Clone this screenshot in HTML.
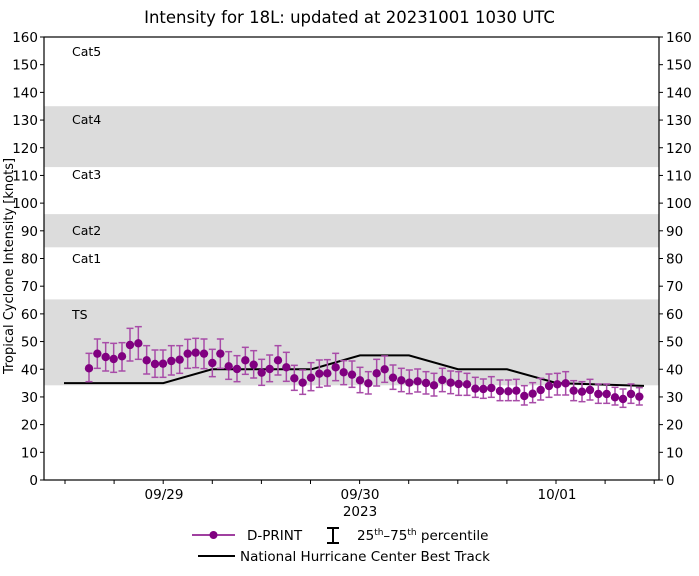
<!DOCTYPE html>
<html><head><meta charset="utf-8"><style>
body{margin:0;background:#fff}
svg text{font-family:"DejaVu Sans","Liberation Sans",sans-serif;fill:#000}
</style></head><body>
<svg id="s" width="699" height="571" xmlns="http://www.w3.org/2000/svg">
<rect width="699" height="571" fill="#fff"/>
<rect x="44" y="299.4" width="615" height="85.9" fill="#dcdcdc"/>
<rect x="44" y="214.1" width="615" height="33.2" fill="#dcdcdc"/>
<rect x="44" y="106.2" width="615" height="60.9" fill="#dcdcdc"/>
<g font-size="12.5">
<text x="72" y="56">Cat5</text><text x="72" y="124">Cat4</text><text x="72" y="179">Cat3</text>
<text x="72" y="235">Cat2</text><text x="72" y="263">Cat1</text><text x="72" y="319">TS</text>
</g>
<g id="bt"></g><g id="pts"></g>
<rect x="44" y="37" width="615" height="443" fill="none" stroke="#000" stroke-width="1.2"/>
<g id="ax" font-size="13.5"></g>
<text x="349.5" y="23" font-size="16.5" text-anchor="middle">Intensity for 18L: updated at 20231001 1030 UTC</text>
<text transform="translate(13,266) rotate(-90)" font-size="13" text-anchor="middle">Tropical Cyclone Intensity [knots]</text>
<text x="164" y="499" font-size="13.5" text-anchor="middle">09/29</text>
<text x="360" y="499" font-size="13.5" text-anchor="middle">09/30</text>
<text x="360" y="516" font-size="13.5" text-anchor="middle">2023</text>
<text x="557" y="499" font-size="13.5" text-anchor="middle">10/01</text>
<line x1="192" y1="535" x2="235" y2="535" stroke="#800080" stroke-width="1.5"/>
<circle cx="213.5" cy="535" r="4" fill="#800080"/>
<text x="247" y="540" font-size="13.5">D-PRINT</text>
<line x1="333" y1="528" x2="333" y2="543" stroke="#000" stroke-width="2"/>
<line x1="327" y1="528" x2="339" y2="528" stroke="#000" stroke-width="2"/>
<line x1="327" y1="543" x2="339" y2="543" stroke="#000" stroke-width="2"/>
<text x="357" y="540" font-size="13.5">25<tspan font-size="9" dy="-5">th</tspan><tspan dy="5">–75</tspan><tspan font-size="9" dy="-5">th</tspan><tspan dy="5"> percentile</tspan></text>
<line x1="198" y1="556" x2="235" y2="556" stroke="#000" stroke-width="2"/>
<text x="240" y="561" font-size="13.5">National Hurricane Center Best Track</text>
</svg>
<script>
var NS="http://www.w3.org/2000/svg";
function el(p,t,a,txt){var e=document.createElementNS(NS,t);for(var k in a)e.setAttribute(k,a[k]);if(txt!=null)e.textContent=txt;document.getElementById(p).appendChild(e);}
for(var v=0;v<=160;v+=10){var y=480-v*443/160;
el("ax","line",{x1:40,y1:y,x2:44,y2:y,stroke:"#000"});
el("ax","line",{x1:659,y1:y,x2:663,y2:y,stroke:"#000"});
el("ax","text",{x:38,y:y+5,"text-anchor":"end"},v);
el("ax","text",{x:666,y:y+5},v);}
for(var i=0;i<13;i++){var x=65+i*49.1;el("ax","line",{x1:x,y1:480,x2:x,y2:484,stroke:"#000"});}
var K=function(v){return 480-v*443/160;};
el("bt","polyline",{points:[[64,K(35)],[163.3,K(35)],[212,K(40)],[311.7,K(40)],[360,K(45)],[409,K(45)],[458,K(40)],[507,K(40)],[556.7,K(35)],[644,K(34)]].join(" "),fill:"none",stroke:"#000","stroke-width":2});
var a=[[147,145,100,185],[172,101,57,145],[197,111,68,153],[221,117,70,157],[246,109,68,153],[270,75,25,123],[295,70,20,118],[320,121,77,162],[345,132,90,172],[369,131,90,172],[394,123,77,165],[419,119,77,160],[443,101,58,145],[467,98,55,143],[492,101,57,146],[517,129,88,170],[541,101,57,145],[566,139,95,178],[591,147,107,185],[616,121,82,163],[641,134,92,174],[665,158,118,196],[689,147,105,185],[714,121,77,165],[739,142,97,184],[763,175,136,211],[788,188,150,223],[813,173,128,212],[838,161,120,202],[862,160,119,198],[887,142,100,182],[911,157,122,194],[936,164,123,202],[960,181,142,218]];
var b=[[85,190,155,222],[110,160,118,198],[134,148,108,187],[159,173,135,208],[184,181,145,215],[208,188,150,221],[233,184,147,216],[258,189,155,222],[282,196,160,228],[307,180,145,215],[332,188,153,221],[356,192,155,226],[381,193,160,226],[406,206,172,232],[430,207,177,235],[454,204,170,232],[480,213,180,242],[505,214,180,242],[529,212,178,242],[553,228,197,255],[578,221,188,248],[602,210,175,240],[627,198,162,232],[652,193,160,225],[677,190,155,225],[701,212,182,242],[726,215,185,245],[750,210,178,240],[775,222,192,250],[800,222,192,250],[825,232,202,255],[849,237,207,262],[873,222,192,250],[898,230,203,255]];
var P=a.map(function(p){return [40+p[0]/3,320+p[1]/3,320+p[2]/3,320+p[3]/3];}).concat(b.map(function(p){return [340+p[0]/3,320+p[1]/3,320+p[2]/3,320+p[3]/3];}));
P.forEach(function(p){var c="#a84ca8";
el("pts","line",{x1:p[0],y1:p[2],x2:p[0],y2:p[3],stroke:c,"stroke-width":1.5});
el("pts","line",{x1:p[0]-3.5,y1:p[2],x2:p[0]+3.5,y2:p[2],stroke:c,"stroke-width":1.5});
el("pts","line",{x1:p[0]-3.5,y1:p[3],x2:p[0]+3.5,y2:p[3],stroke:c,"stroke-width":1.5});});
P.forEach(function(p){el("pts","circle",{cx:p[0],cy:p[1],r:4.2,fill:"#800080"});});
</script>
</body></html>
